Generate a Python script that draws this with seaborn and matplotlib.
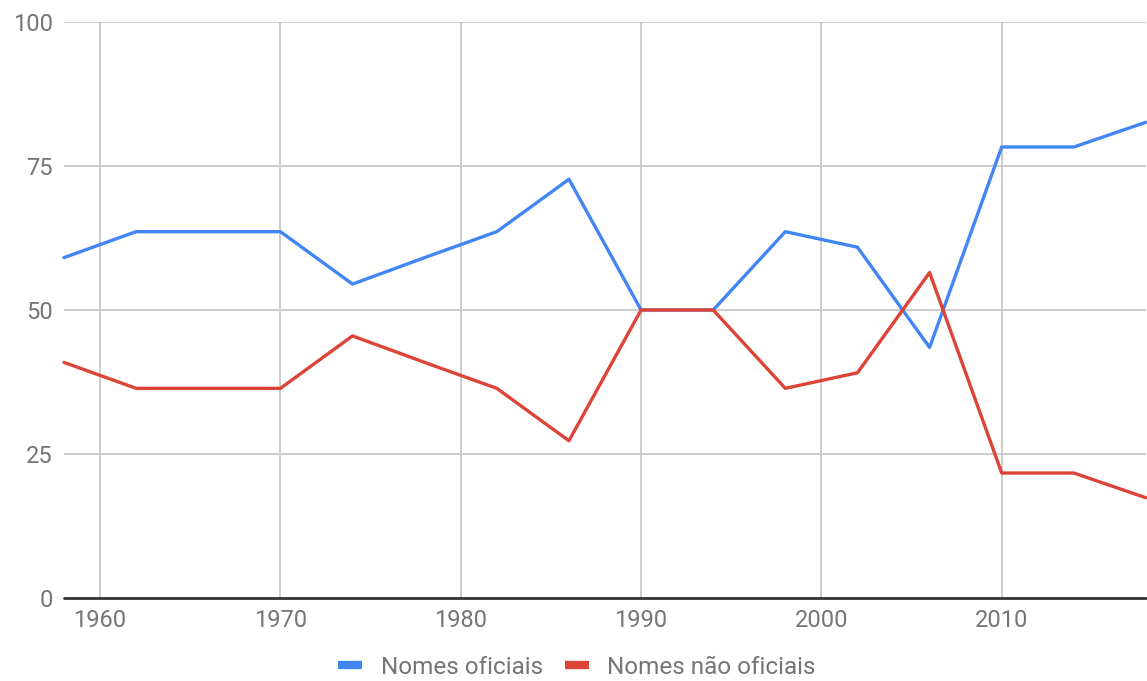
import pandas as pd
import matplotlib.pyplot as plt
import seaborn as sns

years = [1958, 1962, 1966, 1970, 1974, 1978, 1982, 1986,
         1990, 1994, 1998, 2002, 2006, 2010, 2014, 2018]

oficiais = [59.1, 63.6, 63.6, 63.6, 54.5, 59.1, 63.6, 72.7,
            50.0, 50.0, 63.6, 60.9, 43.5, 78.3, 78.3, 82.6]

nao_oficiais = [40.9, 36.4, 36.4, 36.4, 45.5, 40.9, 36.4, 27.3,
                50.0, 50.0, 36.4, 39.1, 56.5, 21.7, 21.7, 17.4]

series_names = ["Nomes oficiais", "Nomes não oficiais"]
x_ticks = [1960, 1970, 1980, 1990, 2000, 2010]
y_ticks = [0, 25, 50, 75, 100]

df = pd.DataFrame({
    "Ano": years * 2,
    "Percentual": oficiais + nao_oficiais,
    "Serie": [series_names[0]] * len(years) + [series_names[1]] * len(years),
})

sns.set_theme(style="white")
plt.rcParams["font.family"] = ["Roboto", "DejaVu Sans"]

fig = plt.figure(figsize=(11.47, 6.81), dpi=100)
ax = fig.add_axes([64 / 1147, 83 / 681, 1082 / 1147, 576 / 681])

ax.set_xlim(1958, 2018)
ax.set_ylim(0, 100)
ax.set_xticks(x_ticks)
ax.set_yticks(y_ticks)

for x in x_ticks:
    ax.axvline(x, color="#cccccc", lw=1.4, zorder=0)
for y in y_ticks[1:]:
    ax.axhline(y, color="#cccccc", lw=1.4, zorder=0)

sns.lineplot(
    data=df,
    x="Ano",
    y="Percentual",
    hue="Serie",
    palette=["#4285f4", "#db4437"],
    linewidth=2.4,
    ax=ax,
    clip_on=False,
)

ax.axhline(0, color="#333333", lw=2, zorder=3, clip_on=False)

for s in ax.spines.values():
    s.set_visible(False)

ax.tick_params(axis="both", length=0, labelsize=17, labelcolor="#757575")
ax.tick_params(axis="y", pad=8)
ax.tick_params(axis="x", pad=8)
ax.set_xlabel("")
ax.set_ylabel("")

handles, labels = ax.get_legend_handles_labels()
for h in handles:
    h.set_linewidth(6)
    h.set_solid_capstyle("butt")
ax.legend(
    handles, labels,
    loc="center",
    bbox_to_anchor=(0.474, -0.12),
    ncol=2,
    frameon=False,
    fontsize=17.5,
    labelcolor="#757575",
    handlelength=1.0,
    columnspacing=0.9,
    handletextpad=0.75,
    borderpad=0.2,
)

plt.savefig("out.png", dpi=100)
